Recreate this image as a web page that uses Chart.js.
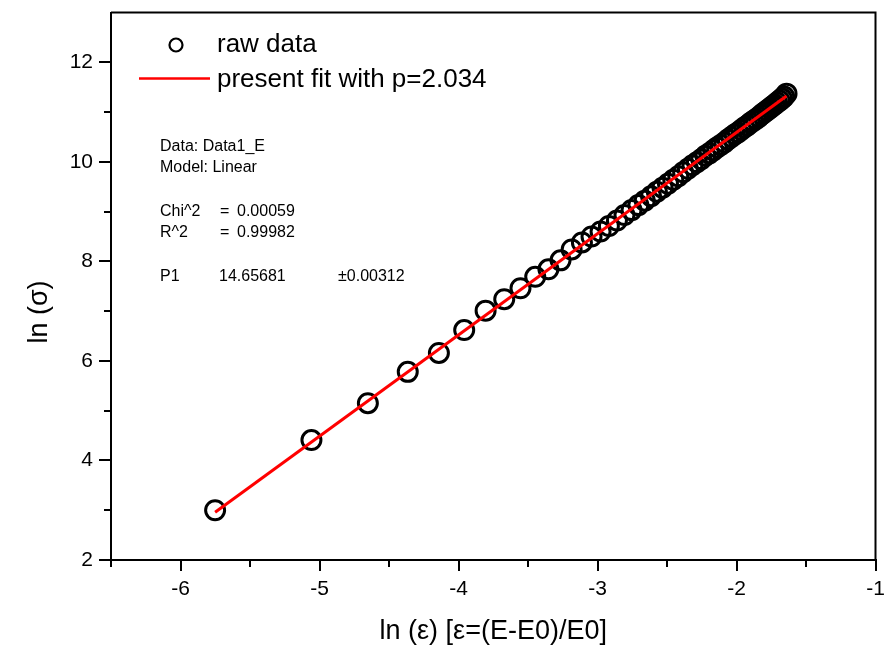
<!DOCTYPE html>
<html><head><meta charset="utf-8">
<script src="https://cdn.jsdelivr.net/npm/chart.js@4/dist/chart.umd.min.js"></script>
<style>html,body{margin:0;padding:0;background:#fff}#wrap{width:888px;height:651px;position:relative}</style>
</head><body><div id="wrap"><canvas id="c" width="888" height="651"></canvas></div>
<script>
// ln(epsilon) values of the raw data
const rawX = [-5.751,-5.058,-4.652,-4.365,-4.141,-3.959,-3.805,-3.671,-3.554,-3.448,
  -3.353,-3.266,-3.186,-3.112,-3.043,-2.978,-2.918,-2.860,-2.806,-2.755,
  -2.706,-2.660,-2.615,-2.573,-2.532,-2.493,-2.455,-2.419,-2.384,-2.350,
  -2.317,-2.285,-2.254,-2.224,-2.196,-2.167,-2.140,-2.113,-2.087,-2.062,
  -2.037,-2.013,-1.990,-1.967,-1.944,-1.922,-1.901,-1.880,-1.859,-1.839,
  -1.819,-1.800,-1.781,-1.762,-1.744,-1.725,-1.708,-1.690,-1.673,-1.657,-1.640];
// ln(sigma) values of the raw data
const rawY = [3.00,4.41,5.15,5.78,6.16,6.62,7.01,7.24,7.46,7.69,
  7.84,8.02,8.24,8.38,8.50,8.60,8.71,8.82,8.93,9.03,
  9.13,9.22,9.31,9.40,9.48,9.56,9.64,9.71,9.79,9.86,
  9.93,9.99,10.05,10.12,10.17,10.23,10.29,10.34,10.39,10.45,
  10.50,10.55,10.59,10.64,10.69,10.73,10.78,10.82,10.86,10.90,
  10.95,10.99,11.03,11.07,11.11,11.15,11.19,11.23,11.27,11.31,11.37];
// linear fit end points
const fitX = [-5.751, -1.640];
const fitY = [2.960, 11.321];
const xTicks = [-6, -5, -4, -3, -2, -1];
const xMinorTicks = [-6.5, -5.5, -4.5, -3.5, -2.5, -1.5];
const yTicks = [2, 4, 6, 8, 10, 12];
const yMinorTicks = [3, 5, 7, 9, 11];
const legendLabels = ['raw data', 'present fit with p=2.034'];
const xTitle = 'ln (\u03B5) [\u03B5=(E-E0)/E0]';
const yTitle = 'ln (\u03C3)';
const infoLines = [
  ['Data: Data1_E'],
  ['Model: Linear'],
  [],
  ['Chi^2', '=', '0.00059'],
  ['R^2', '=', '0.99982'],
  [],
  ['P1', '14.65681', '\u00B10.00312']
];

const FONT = '"Liberation Sans", Arial, sans-serif';

const decorPlugin = {
  id: 'decor',
  afterDraw(chart) {
    const ctx = chart.ctx;
    const a = chart.chartArea;
    const xs = chart.scales.x, ys = chart.scales.y;
    ctx.save();
    // frame (top & right)
    ctx.strokeStyle = '#000';
    ctx.lineWidth = 2;
    ctx.beginPath();
    ctx.moveTo(a.left, a.top); ctx.lineTo(a.right, a.top); ctx.lineTo(a.right, a.bottom);
    ctx.stroke();
    // minor ticks
    ctx.beginPath();
    xMinorTicks.forEach(v => {
      const px = Math.round(xs.getPixelForValue(v));
      ctx.moveTo(px, a.bottom); ctx.lineTo(px, a.bottom + 7);
    });
    yMinorTicks.forEach(v => {
      const py = Math.round(ys.getPixelForValue(v));
      ctx.moveTo(a.left, py); ctx.lineTo(a.left - 7, py);
    });
    ctx.stroke();
    // legend
    ctx.lineWidth = 2.2;
    ctx.beginPath();
    ctx.arc(176, 45, 6.5, 0, Math.PI * 2);
    ctx.stroke();
    ctx.strokeStyle = '#ff0000';
    ctx.lineWidth = 2.5;
    ctx.beginPath();
    ctx.moveTo(139, 78.5); ctx.lineTo(210, 78.5);
    ctx.stroke();
    ctx.fillStyle = '#000';
    ctx.font = '26px ' + FONT;
    ctx.textBaseline = 'middle';
    ctx.textAlign = 'left';
    ctx.fillText(legendLabels[0], 217, 45);
    ctx.fillText(legendLabels[1], 217, 80);
    // fit info
    ctx.font = '16px ' + FONT;
    const rowY = [147, 168, 0, 212, 233, 0, 277];
    infoLines.forEach((row, i) => {
      if (!row.length) return;
      if (row.length === 1) { ctx.fillText(row[0], 160, rowY[i]); return; }
      if (row[1] === '=') {
        ctx.fillText(row[0], 160, rowY[i]);
        ctx.fillText(row[1], 220, rowY[i]);
        ctx.fillText(row[2], 237, rowY[i]);
      } else {
        ctx.fillText(row[0], 160, rowY[i]);
        ctx.fillText(row[1], 219, rowY[i]);
        ctx.fillText(row[2], 338, rowY[i]);
      }
    });
    // axis titles
    ctx.font = '27px ' + FONT;
    ctx.textAlign = 'center';
    ctx.fillText(xTitle, (a.left + a.right) / 2, 632);
    ctx.translate(40, 312);
    ctx.rotate(-Math.PI / 2);
    ctx.fillText(yTitle, 0, 0);
    ctx.restore();
  }
};

new Chart(document.getElementById('c'), {
  type: 'scatter',
  data: {
    datasets: [
      {
        label: legendLabels[1],
        data: fitX.map((x, i) => ({ x, y: fitY[i] })),
        showLine: true,
        borderColor: '#ff0000',
        borderWidth: 3,
        pointRadius: 0,
        fill: false
      },
      {
        label: legendLabels[0],
        data: rawX.map((x, i) => ({ x, y: rawY[i] })),
        pointStyle: 'circle',
        pointRadius: 9.5,
        pointBorderWidth: 3,
        borderColor: '#000',
        backgroundColor: 'rgba(0,0,0,0)',
        pointBackgroundColor: 'rgba(0,0,0,0)',
        pointBorderColor: '#000'
      }
    ]
  },
  options: {
    responsive: false,
    animation: false,
    events: [],
    layout: { padding: { left: 0, right: 8, top: 12, bottom: 0 } },
    plugins: { legend: { display: false }, tooltip: { enabled: false } },
    scales: {
      x: {
        type: 'linear', position: 'bottom', min: -6.5, max: -1,
        afterBuildTicks: s => { s.ticks = xTicks.map(v => ({ value: v })); },
        afterFit: s => { s.height = 91; s.paddingLeft = 0; s.paddingRight = 0; },
        ticks: { color: '#000', font: { family: FONT, size: 21 }, padding: 6, maxRotation: 0, callback: v => String(v) },
        grid: { drawOnChartArea: false, drawTicks: true, tickLength: 11, color: '#000', lineWidth: 2 },
        border: { color: '#000', width: 2 }
      },
      y: {
        type: 'linear', position: 'left', min: 2, max: 13,
        afterBuildTicks: s => { s.ticks = yTicks.map(v => ({ value: v })); },
        afterFit: s => { s.width = 111; s.paddingTop = 0; s.paddingBottom = 0; },
        ticks: { color: '#000', font: { family: FONT, size: 21 }, padding: 6, callback: v => String(v) },
        grid: { drawOnChartArea: false, drawTicks: true, tickLength: 12, color: '#000', lineWidth: 2 },
        border: { color: '#000', width: 2 }
      }
    }
  },
  plugins: [decorPlugin]
});
</script></body></html>
